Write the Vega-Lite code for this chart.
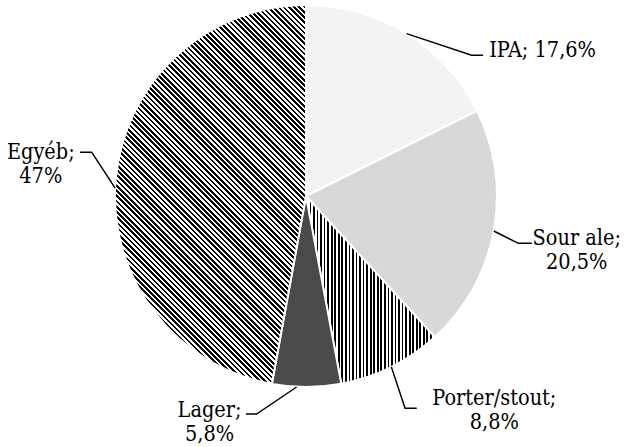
{
  "$schema": "https://vega.github.io/schema/vega-lite/v6.json",
  "width": 612,
  "height": 392,
  "padding": {"left": 0, "top": 0, "right": 12, "bottom": 55},
  "autosize": "none",
  "background": "white",
  "config": {"view": {"stroke": null}},
  "data": {
    "values": [
      {"category": "IPA", "value": 17.6, "label": ["IPA; 17,6%"]},
      {"category": "Sour ale", "value": 20.5, "label": ["Sour ale;", "20,5%"]},
      {"category": "Porter/stout", "value": 8.8, "label": ["Porter/stout;", "8,8%"]},
      {"category": "Lager", "value": 5.8, "label": ["Lager;", "5,8%"]},
      {"category": "Egyéb", "value": 47, "label": ["Egyéb;", "47%"]}
    ]
  },
  "transform": [
    {"window": [{"op": "row_number", "as": "i"}, {"op": "sum", "field": "value", "as": "cum"}], "frame": [null, 0]},
    {"joinaggregate": [{"op": "sum", "field": "value", "as": "total"}]},
    {"calculate": "2*PI*(datum.cum - datum.value/2)/datum.total", "as": "mid"},
    {"calculate": "191*sin(datum.mid)", "as": "ax"},
    {"calculate": "191*cos(datum.mid)", "as": "ay"}
  ],
  "layer": [
    {
      "mark": {"type": "arc", "radius": 191, "stroke": "white", "strokeWidth": 2},
      "encoding": {
        "theta": {"field": "value", "type": "quantitative", "stack": true},
        "order": {"field": "i", "type": "quantitative"},
        "fill": {
          "condition": [
            {"test": "datum.category === 'IPA'", "value": "#f3f3f3"},
            {"test": "datum.category === 'Sour ale'", "value": "#d8d8d8"},
            {"test": "datum.category === 'Lager'", "value": "#4a4a4a"},
            {"test": "datum.category === 'Porter/stout'", "value": {
              "gradient": "linear", "x1": 0, "y1": 0, "x2": 1.1, "y2": 0,
              "stops": [
                {"offset":0,"color":"#000"},
                {"offset":0.0125,"color":"#000"},{"offset":0.0125,"color":"#fff"},
                {"offset":0.025,"color":"#fff"},{"offset":0.025,"color":"#000"},
                {"offset":0.0375,"color":"#000"},{"offset":0.0375,"color":"#fff"},
                {"offset":0.05,"color":"#fff"},{"offset":0.05,"color":"#000"},
                {"offset":0.0625,"color":"#000"},{"offset":0.0625,"color":"#fff"},
                {"offset":0.075,"color":"#fff"},{"offset":0.075,"color":"#000"},
                {"offset":0.0875,"color":"#000"},{"offset":0.0875,"color":"#fff"},
                {"offset":0.1,"color":"#fff"},{"offset":0.1,"color":"#000"},
                {"offset":0.1125,"color":"#000"},{"offset":0.1125,"color":"#fff"},
                {"offset":0.125,"color":"#fff"},{"offset":0.125,"color":"#000"},
                {"offset":0.1375,"color":"#000"},{"offset":0.1375,"color":"#fff"},
                {"offset":0.15,"color":"#fff"},{"offset":0.15,"color":"#000"},
                {"offset":0.1625,"color":"#000"},{"offset":0.1625,"color":"#fff"},
                {"offset":0.175,"color":"#fff"},{"offset":0.175,"color":"#000"},
                {"offset":0.1875,"color":"#000"},{"offset":0.1875,"color":"#fff"},
                {"offset":0.2,"color":"#fff"},{"offset":0.2,"color":"#000"},
                {"offset":0.2125,"color":"#000"},{"offset":0.2125,"color":"#fff"},
                {"offset":0.225,"color":"#fff"},{"offset":0.225,"color":"#000"},
                {"offset":0.2375,"color":"#000"},{"offset":0.2375,"color":"#fff"},
                {"offset":0.25,"color":"#fff"},{"offset":0.25,"color":"#000"},
                {"offset":0.2625,"color":"#000"},{"offset":0.2625,"color":"#fff"},
                {"offset":0.275,"color":"#fff"},{"offset":0.275,"color":"#000"},
                {"offset":0.2875,"color":"#000"},{"offset":0.2875,"color":"#fff"},
                {"offset":0.3,"color":"#fff"},{"offset":0.3,"color":"#000"},
                {"offset":0.3125,"color":"#000"},{"offset":0.3125,"color":"#fff"},
                {"offset":0.325,"color":"#fff"},{"offset":0.325,"color":"#000"},
                {"offset":0.3375,"color":"#000"},{"offset":0.3375,"color":"#fff"},
                {"offset":0.35,"color":"#fff"},{"offset":0.35,"color":"#000"},
                {"offset":0.3625,"color":"#000"},{"offset":0.3625,"color":"#fff"},
                {"offset":0.375,"color":"#fff"},{"offset":0.375,"color":"#000"},
                {"offset":0.3875,"color":"#000"},{"offset":0.3875,"color":"#fff"},
                {"offset":0.4,"color":"#fff"},{"offset":0.4,"color":"#000"},
                {"offset":0.4125,"color":"#000"},{"offset":0.4125,"color":"#fff"},
                {"offset":0.425,"color":"#fff"},{"offset":0.425,"color":"#000"},
                {"offset":0.4375,"color":"#000"},{"offset":0.4375,"color":"#fff"},
                {"offset":0.45,"color":"#fff"},{"offset":0.45,"color":"#000"},
                {"offset":0.4625,"color":"#000"},{"offset":0.4625,"color":"#fff"},
                {"offset":0.475,"color":"#fff"},{"offset":0.475,"color":"#000"},
                {"offset":0.4875,"color":"#000"},{"offset":0.4875,"color":"#fff"},
                {"offset":0.5,"color":"#fff"},{"offset":0.5,"color":"#000"},
                {"offset":0.5125,"color":"#000"},{"offset":0.5125,"color":"#fff"},
                {"offset":0.525,"color":"#fff"},{"offset":0.525,"color":"#000"},
                {"offset":0.5375,"color":"#000"},{"offset":0.5375,"color":"#fff"},
                {"offset":0.55,"color":"#fff"},{"offset":0.55,"color":"#000"},
                {"offset":0.5625,"color":"#000"},{"offset":0.5625,"color":"#fff"},
                {"offset":0.575,"color":"#fff"},{"offset":0.575,"color":"#000"},
                {"offset":0.5875,"color":"#000"},{"offset":0.5875,"color":"#fff"},
                {"offset":0.6,"color":"#fff"},{"offset":0.6,"color":"#000"},
                {"offset":0.6125,"color":"#000"},{"offset":0.6125,"color":"#fff"},
                {"offset":0.625,"color":"#fff"},{"offset":0.625,"color":"#000"},
                {"offset":0.6375,"color":"#000"},{"offset":0.6375,"color":"#fff"},
                {"offset":0.65,"color":"#fff"},{"offset":0.65,"color":"#000"},
                {"offset":0.6625,"color":"#000"},{"offset":0.6625,"color":"#fff"},
                {"offset":0.675,"color":"#fff"},{"offset":0.675,"color":"#000"},
                {"offset":0.6875,"color":"#000"},{"offset":0.6875,"color":"#fff"},
                {"offset":0.7,"color":"#fff"},{"offset":0.7,"color":"#000"},
                {"offset":0.7125,"color":"#000"},{"offset":0.7125,"color":"#fff"},
                {"offset":0.725,"color":"#fff"},{"offset":0.725,"color":"#000"},
                {"offset":0.7375,"color":"#000"},{"offset":0.7375,"color":"#fff"},
                {"offset":0.75,"color":"#fff"},{"offset":0.75,"color":"#000"},
                {"offset":0.7625,"color":"#000"},{"offset":0.7625,"color":"#fff"},
                {"offset":0.775,"color":"#fff"},{"offset":0.775,"color":"#000"},
                {"offset":0.7875,"color":"#000"},{"offset":0.7875,"color":"#fff"},
                {"offset":0.8,"color":"#fff"},{"offset":0.8,"color":"#000"},
                {"offset":0.8125,"color":"#000"},{"offset":0.8125,"color":"#fff"},
                {"offset":0.825,"color":"#fff"},{"offset":0.825,"color":"#000"},
                {"offset":0.8375,"color":"#000"},{"offset":0.8375,"color":"#fff"},
                {"offset":0.85,"color":"#fff"},{"offset":0.85,"color":"#000"},
                {"offset":0.8625,"color":"#000"},{"offset":0.8625,"color":"#fff"},
                {"offset":0.875,"color":"#fff"},{"offset":0.875,"color":"#000"},
                {"offset":0.8875,"color":"#000"},{"offset":0.8875,"color":"#fff"},
                {"offset":0.9,"color":"#fff"},{"offset":0.9,"color":"#000"},
                {"offset":0.9125,"color":"#000"},{"offset":0.9125,"color":"#fff"}
              ]
            }}
          ],
          "value": {
            "gradient": "linear", "x1": 0, "y1": 1, "x2": 0.6938, "y2": -0.3765,
            "stops": [
              {"offset":0,"color":"#000"},
              {"offset":0.004,"color":"#000"},{"offset":0.004,"color":"#fff"},{"offset":0.008,"color":"#fff"},{"offset":0.008,"color":"#000"},
              {"offset":0.012,"color":"#000"},{"offset":0.012,"color":"#fff"},{"offset":0.016,"color":"#fff"},{"offset":0.016,"color":"#000"},
              {"offset":0.02,"color":"#000"},{"offset":0.02,"color":"#fff"},{"offset":0.024,"color":"#fff"},{"offset":0.024,"color":"#000"},
              {"offset":0.028,"color":"#000"},{"offset":0.028,"color":"#fff"},{"offset":0.032,"color":"#fff"},{"offset":0.032,"color":"#000"},
              {"offset":0.036,"color":"#000"},{"offset":0.036,"color":"#fff"},{"offset":0.04,"color":"#fff"},{"offset":0.04,"color":"#000"},
              {"offset":0.044,"color":"#000"},{"offset":0.044,"color":"#fff"},{"offset":0.048,"color":"#fff"},{"offset":0.048,"color":"#000"},
              {"offset":0.052,"color":"#000"},{"offset":0.052,"color":"#fff"},{"offset":0.056,"color":"#fff"},{"offset":0.056,"color":"#000"},
              {"offset":0.06,"color":"#000"},{"offset":0.06,"color":"#fff"},{"offset":0.064,"color":"#fff"},{"offset":0.064,"color":"#000"},
              {"offset":0.068,"color":"#000"},{"offset":0.068,"color":"#fff"},{"offset":0.072,"color":"#fff"},{"offset":0.072,"color":"#000"},
              {"offset":0.076,"color":"#000"},{"offset":0.076,"color":"#fff"},{"offset":0.08,"color":"#fff"},{"offset":0.08,"color":"#000"},
              {"offset":0.084,"color":"#000"},{"offset":0.084,"color":"#fff"},{"offset":0.088,"color":"#fff"},{"offset":0.088,"color":"#000"},
              {"offset":0.092,"color":"#000"},{"offset":0.092,"color":"#fff"},{"offset":0.096,"color":"#fff"},{"offset":0.096,"color":"#000"},
              {"offset":0.1,"color":"#000"},{"offset":0.1,"color":"#fff"},{"offset":0.104,"color":"#fff"},{"offset":0.104,"color":"#000"},
              {"offset":0.108,"color":"#000"},{"offset":0.108,"color":"#fff"},{"offset":0.112,"color":"#fff"},{"offset":0.112,"color":"#000"},
              {"offset":0.116,"color":"#000"},{"offset":0.116,"color":"#fff"},{"offset":0.12,"color":"#fff"},{"offset":0.12,"color":"#000"},
              {"offset":0.124,"color":"#000"},{"offset":0.124,"color":"#fff"},{"offset":0.128,"color":"#fff"},{"offset":0.128,"color":"#000"},
              {"offset":0.132,"color":"#000"},{"offset":0.132,"color":"#fff"},{"offset":0.136,"color":"#fff"},{"offset":0.136,"color":"#000"},
              {"offset":0.14,"color":"#000"},{"offset":0.14,"color":"#fff"},{"offset":0.144,"color":"#fff"},{"offset":0.144,"color":"#000"},
              {"offset":0.148,"color":"#000"},{"offset":0.148,"color":"#fff"},{"offset":0.152,"color":"#fff"},{"offset":0.152,"color":"#000"},
              {"offset":0.156,"color":"#000"},{"offset":0.156,"color":"#fff"},{"offset":0.16,"color":"#fff"},{"offset":0.16,"color":"#000"},
              {"offset":0.164,"color":"#000"},{"offset":0.164,"color":"#fff"},{"offset":0.168,"color":"#fff"},{"offset":0.168,"color":"#000"},
              {"offset":0.172,"color":"#000"},{"offset":0.172,"color":"#fff"},{"offset":0.176,"color":"#fff"},{"offset":0.176,"color":"#000"},
              {"offset":0.18,"color":"#000"},{"offset":0.18,"color":"#fff"},{"offset":0.184,"color":"#fff"},{"offset":0.184,"color":"#000"},
              {"offset":0.188,"color":"#000"},{"offset":0.188,"color":"#fff"},{"offset":0.192,"color":"#fff"},{"offset":0.192,"color":"#000"},
              {"offset":0.196,"color":"#000"},{"offset":0.196,"color":"#fff"},{"offset":0.2,"color":"#fff"},{"offset":0.2,"color":"#000"},
              {"offset":0.204,"color":"#000"},{"offset":0.204,"color":"#fff"},{"offset":0.208,"color":"#fff"},{"offset":0.208,"color":"#000"},
              {"offset":0.212,"color":"#000"},{"offset":0.212,"color":"#fff"},{"offset":0.216,"color":"#fff"},{"offset":0.216,"color":"#000"},
              {"offset":0.22,"color":"#000"},{"offset":0.22,"color":"#fff"},{"offset":0.224,"color":"#fff"},{"offset":0.224,"color":"#000"},
              {"offset":0.228,"color":"#000"},{"offset":0.228,"color":"#fff"},{"offset":0.232,"color":"#fff"},{"offset":0.232,"color":"#000"},
              {"offset":0.236,"color":"#000"},{"offset":0.236,"color":"#fff"},{"offset":0.24,"color":"#fff"},{"offset":0.24,"color":"#000"},
              {"offset":0.244,"color":"#000"},{"offset":0.244,"color":"#fff"},{"offset":0.248,"color":"#fff"},{"offset":0.248,"color":"#000"},
              {"offset":0.252,"color":"#000"},{"offset":0.252,"color":"#fff"},{"offset":0.256,"color":"#fff"},{"offset":0.256,"color":"#000"},
              {"offset":0.26,"color":"#000"},{"offset":0.26,"color":"#fff"},{"offset":0.264,"color":"#fff"},{"offset":0.264,"color":"#000"},
              {"offset":0.268,"color":"#000"},{"offset":0.268,"color":"#fff"},{"offset":0.272,"color":"#fff"},{"offset":0.272,"color":"#000"},
              {"offset":0.276,"color":"#000"},{"offset":0.276,"color":"#fff"},{"offset":0.28,"color":"#fff"},{"offset":0.28,"color":"#000"},
              {"offset":0.284,"color":"#000"},{"offset":0.284,"color":"#fff"},{"offset":0.288,"color":"#fff"},{"offset":0.288,"color":"#000"},
              {"offset":0.292,"color":"#000"},{"offset":0.292,"color":"#fff"},{"offset":0.296,"color":"#fff"},{"offset":0.296,"color":"#000"},
              {"offset":0.3,"color":"#000"},{"offset":0.3,"color":"#fff"},{"offset":0.304,"color":"#fff"},{"offset":0.304,"color":"#000"},
              {"offset":0.308,"color":"#000"},{"offset":0.308,"color":"#fff"},{"offset":0.312,"color":"#fff"},{"offset":0.312,"color":"#000"},
              {"offset":0.316,"color":"#000"},{"offset":0.316,"color":"#fff"},{"offset":0.32,"color":"#fff"},{"offset":0.32,"color":"#000"},
              {"offset":0.324,"color":"#000"},{"offset":0.324,"color":"#fff"},{"offset":0.328,"color":"#fff"},{"offset":0.328,"color":"#000"},
              {"offset":0.332,"color":"#000"},{"offset":0.332,"color":"#fff"},{"offset":0.336,"color":"#fff"},{"offset":0.336,"color":"#000"},
              {"offset":0.34,"color":"#000"},{"offset":0.34,"color":"#fff"},{"offset":0.344,"color":"#fff"},{"offset":0.344,"color":"#000"},
              {"offset":0.348,"color":"#000"},{"offset":0.348,"color":"#fff"},{"offset":0.352,"color":"#fff"},{"offset":0.352,"color":"#000"},
              {"offset":0.356,"color":"#000"},{"offset":0.356,"color":"#fff"},{"offset":0.36,"color":"#fff"},{"offset":0.36,"color":"#000"},
              {"offset":0.364,"color":"#000"},{"offset":0.364,"color":"#fff"},{"offset":0.368,"color":"#fff"},{"offset":0.368,"color":"#000"},
              {"offset":0.372,"color":"#000"},{"offset":0.372,"color":"#fff"},{"offset":0.376,"color":"#fff"},{"offset":0.376,"color":"#000"},
              {"offset":0.38,"color":"#000"},{"offset":0.38,"color":"#fff"},{"offset":0.384,"color":"#fff"},{"offset":0.384,"color":"#000"},
              {"offset":0.388,"color":"#000"},{"offset":0.388,"color":"#fff"},{"offset":0.392,"color":"#fff"},{"offset":0.392,"color":"#000"},
              {"offset":0.396,"color":"#000"},{"offset":0.396,"color":"#fff"},{"offset":0.4,"color":"#fff"},{"offset":0.4,"color":"#000"},
              {"offset":0.404,"color":"#000"},{"offset":0.404,"color":"#fff"},{"offset":0.408,"color":"#fff"},{"offset":0.408,"color":"#000"},
              {"offset":0.412,"color":"#000"},{"offset":0.412,"color":"#fff"},{"offset":0.416,"color":"#fff"},{"offset":0.416,"color":"#000"},
              {"offset":0.42,"color":"#000"},{"offset":0.42,"color":"#fff"},{"offset":0.424,"color":"#fff"},{"offset":0.424,"color":"#000"},
              {"offset":0.428,"color":"#000"},{"offset":0.428,"color":"#fff"},{"offset":0.432,"color":"#fff"},{"offset":0.432,"color":"#000"},
              {"offset":0.436,"color":"#000"},{"offset":0.436,"color":"#fff"},{"offset":0.44,"color":"#fff"},{"offset":0.44,"color":"#000"},
              {"offset":0.444,"color":"#000"},{"offset":0.444,"color":"#fff"},{"offset":0.448,"color":"#fff"},{"offset":0.448,"color":"#000"},
              {"offset":0.452,"color":"#000"},{"offset":0.452,"color":"#fff"},{"offset":0.456,"color":"#fff"},{"offset":0.456,"color":"#000"},
              {"offset":0.46,"color":"#000"},{"offset":0.46,"color":"#fff"},{"offset":0.464,"color":"#fff"},{"offset":0.464,"color":"#000"},
              {"offset":0.468,"color":"#000"},{"offset":0.468,"color":"#fff"},{"offset":0.472,"color":"#fff"},{"offset":0.472,"color":"#000"},
              {"offset":0.476,"color":"#000"},{"offset":0.476,"color":"#fff"},{"offset":0.48,"color":"#fff"},{"offset":0.48,"color":"#000"},
              {"offset":0.484,"color":"#000"},{"offset":0.484,"color":"#fff"},{"offset":0.488,"color":"#fff"},{"offset":0.488,"color":"#000"},
              {"offset":0.492,"color":"#000"},{"offset":0.492,"color":"#fff"},{"offset":0.496,"color":"#fff"},{"offset":0.496,"color":"#000"},
              {"offset":0.5,"color":"#000"},{"offset":0.5,"color":"#fff"},{"offset":0.504,"color":"#fff"},{"offset":0.504,"color":"#000"},
              {"offset":0.508,"color":"#000"},{"offset":0.508,"color":"#fff"},{"offset":0.512,"color":"#fff"},{"offset":0.512,"color":"#000"},
              {"offset":0.516,"color":"#000"},{"offset":0.516,"color":"#fff"},{"offset":0.52,"color":"#fff"},{"offset":0.52,"color":"#000"},
              {"offset":0.524,"color":"#000"},{"offset":0.524,"color":"#fff"},{"offset":0.528,"color":"#fff"},{"offset":0.528,"color":"#000"},
              {"offset":0.532,"color":"#000"},{"offset":0.532,"color":"#fff"},{"offset":0.536,"color":"#fff"},{"offset":0.536,"color":"#000"},
              {"offset":0.54,"color":"#000"},{"offset":0.54,"color":"#fff"},{"offset":0.544,"color":"#fff"},{"offset":0.544,"color":"#000"},
              {"offset":0.548,"color":"#000"},{"offset":0.548,"color":"#fff"},{"offset":0.552,"color":"#fff"},{"offset":0.552,"color":"#000"},
              {"offset":0.556,"color":"#000"},{"offset":0.556,"color":"#fff"},{"offset":0.56,"color":"#fff"},{"offset":0.56,"color":"#000"},
              {"offset":0.564,"color":"#000"},{"offset":0.564,"color":"#fff"},{"offset":0.568,"color":"#fff"},{"offset":0.568,"color":"#000"},
              {"offset":0.572,"color":"#000"},{"offset":0.572,"color":"#fff"},{"offset":0.576,"color":"#fff"},{"offset":0.576,"color":"#000"},
              {"offset":0.58,"color":"#000"},{"offset":0.58,"color":"#fff"},{"offset":0.584,"color":"#fff"},{"offset":0.584,"color":"#000"},
              {"offset":0.588,"color":"#000"},{"offset":0.588,"color":"#fff"},{"offset":0.592,"color":"#fff"},{"offset":0.592,"color":"#000"},
              {"offset":0.596,"color":"#000"},{"offset":0.596,"color":"#fff"},{"offset":0.6,"color":"#fff"},{"offset":0.6,"color":"#000"},
              {"offset":0.604,"color":"#000"},{"offset":0.604,"color":"#fff"},{"offset":0.608,"color":"#fff"},{"offset":0.608,"color":"#000"},
              {"offset":0.612,"color":"#000"},{"offset":0.612,"color":"#fff"},{"offset":0.616,"color":"#fff"},{"offset":0.616,"color":"#000"},
              {"offset":0.62,"color":"#000"},{"offset":0.62,"color":"#fff"},{"offset":0.624,"color":"#fff"},{"offset":0.624,"color":"#000"},
              {"offset":0.628,"color":"#000"},{"offset":0.628,"color":"#fff"},{"offset":0.632,"color":"#fff"},{"offset":0.632,"color":"#000"},
              {"offset":0.636,"color":"#000"},{"offset":0.636,"color":"#fff"},{"offset":0.64,"color":"#fff"},{"offset":0.64,"color":"#000"},
              {"offset":0.644,"color":"#000"},{"offset":0.644,"color":"#fff"},{"offset":0.648,"color":"#fff"},{"offset":0.648,"color":"#000"},
              {"offset":0.652,"color":"#000"},{"offset":0.652,"color":"#fff"},{"offset":0.656,"color":"#fff"},{"offset":0.656,"color":"#000"},
              {"offset":0.66,"color":"#000"},{"offset":0.66,"color":"#fff"},{"offset":0.664,"color":"#fff"},{"offset":0.664,"color":"#000"},
              {"offset":0.668,"color":"#000"},{"offset":0.668,"color":"#fff"},{"offset":0.672,"color":"#fff"},{"offset":0.672,"color":"#000"},
              {"offset":0.676,"color":"#000"},{"offset":0.676,"color":"#fff"},{"offset":0.68,"color":"#fff"},{"offset":0.68,"color":"#000"},
              {"offset":0.684,"color":"#000"},{"offset":0.684,"color":"#fff"},{"offset":0.688,"color":"#fff"},{"offset":0.688,"color":"#000"},
              {"offset":0.692,"color":"#000"},{"offset":0.692,"color":"#fff"},{"offset":0.696,"color":"#fff"},{"offset":0.696,"color":"#000"},
              {"offset":0.7,"color":"#000"},{"offset":0.7,"color":"#fff"},{"offset":0.704,"color":"#fff"},{"offset":0.704,"color":"#000"},
              {"offset":0.708,"color":"#000"},{"offset":0.708,"color":"#fff"},{"offset":0.712,"color":"#fff"},{"offset":0.712,"color":"#000"},
              {"offset":0.716,"color":"#000"},{"offset":0.716,"color":"#fff"},{"offset":0.72,"color":"#fff"},{"offset":0.72,"color":"#000"},
              {"offset":0.724,"color":"#000"},{"offset":0.724,"color":"#fff"},{"offset":0.728,"color":"#fff"},{"offset":0.728,"color":"#000"},
              {"offset":0.732,"color":"#000"},{"offset":0.732,"color":"#fff"},{"offset":0.736,"color":"#fff"},{"offset":0.736,"color":"#000"},
              {"offset":0.74,"color":"#000"},{"offset":0.74,"color":"#fff"},{"offset":0.744,"color":"#fff"},{"offset":0.744,"color":"#000"},
              {"offset":0.748,"color":"#000"},{"offset":0.748,"color":"#fff"},{"offset":0.752,"color":"#fff"},{"offset":0.752,"color":"#000"},
              {"offset":0.756,"color":"#000"},{"offset":0.756,"color":"#fff"},{"offset":0.76,"color":"#fff"},{"offset":0.76,"color":"#000"},
              {"offset":0.764,"color":"#000"},{"offset":0.764,"color":"#fff"},{"offset":0.768,"color":"#fff"},{"offset":0.768,"color":"#000"},
              {"offset":0.772,"color":"#000"},{"offset":0.772,"color":"#fff"},{"offset":0.776,"color":"#fff"},{"offset":0.776,"color":"#000"},
              {"offset":0.78,"color":"#000"},{"offset":0.78,"color":"#fff"},{"offset":0.784,"color":"#fff"},{"offset":0.784,"color":"#000"},
              {"offset":0.788,"color":"#000"},{"offset":0.788,"color":"#fff"},{"offset":0.792,"color":"#fff"},{"offset":0.792,"color":"#000"},
              {"offset":0.796,"color":"#000"},{"offset":0.796,"color":"#fff"},{"offset":0.8,"color":"#fff"},{"offset":0.8,"color":"#000"},
              {"offset":0.804,"color":"#000"},{"offset":0.804,"color":"#fff"},{"offset":0.808,"color":"#fff"},{"offset":0.808,"color":"#000"},
              {"offset":0.812,"color":"#000"},{"offset":0.812,"color":"#fff"},{"offset":0.816,"color":"#fff"},{"offset":0.816,"color":"#000"},
              {"offset":0.82,"color":"#000"},{"offset":0.82,"color":"#fff"},{"offset":0.824,"color":"#fff"},{"offset":0.824,"color":"#000"},
              {"offset":0.828,"color":"#000"},{"offset":0.828,"color":"#fff"},{"offset":0.832,"color":"#fff"},{"offset":0.832,"color":"#000"},
              {"offset":0.836,"color":"#000"},{"offset":0.836,"color":"#fff"},{"offset":0.84,"color":"#fff"},{"offset":0.84,"color":"#000"},
              {"offset":0.844,"color":"#000"},{"offset":0.844,"color":"#fff"},{"offset":0.848,"color":"#fff"},{"offset":0.848,"color":"#000"},
              {"offset":0.852,"color":"#000"},{"offset":0.852,"color":"#fff"},{"offset":0.856,"color":"#fff"},{"offset":0.856,"color":"#000"},
              {"offset":0.86,"color":"#000"},{"offset":0.86,"color":"#fff"},{"offset":0.864,"color":"#fff"},{"offset":0.864,"color":"#000"},
              {"offset":0.868,"color":"#000"},{"offset":0.868,"color":"#fff"},{"offset":0.872,"color":"#fff"},{"offset":0.872,"color":"#000"},
              {"offset":0.876,"color":"#000"},{"offset":0.876,"color":"#fff"}
            ]
          }
        }
      }
    },
    {
      "mark": {"type": "point", "filled": false, "stroke": "black", "strokeWidth": 1.5, "size": 40000, "opacity": 1},
      "encoding": {
        "x": {"field": "ax", "type": "quantitative", "scale": {"domain": [-306, 306], "nice": false, "zero": false}, "axis": null},
        "y": {"field": "ay", "type": "quantitative", "scale": {"domain": [-196, 196], "nice": false, "zero": false}, "axis": null},
        "shape": {
          "field": "category", "type": "nominal", "legend": null,
          "scale": {
            "domain": ["IPA", "Sour ale", "Porter/stout", "Lager", "Egyéb"],
            "range": [
              "M0,0L0.65,0.215L0.765,0.215",
              "M0,0L0.245,0.123L0.38,0.123",
              "M0,0L0.137,0.414L0.254,0.414",
              "M-0.1,0L-0.5,0.27L-0.607,0.27",
              "M-0.006,0.093L-0.241,-0.267L-0.358,-0.267"
            ]
          }
        }
      }
    },
    {
      "mark": {
        "type": "text", "font": "DejaVu Serif Condensed", "fontSize": 21.5, "lineHeight": 24,
        "align": "center", "baseline": "alphabetic", "color": "black",
        "dx": {"expr": "datum.category === 'IPA' ? 136 : datum.category === 'Sour ale' ? 83 : datum.category === 'Porter/stout' ? 103 : datum.category === 'Lager' ? -97 : -75"},
        "dy": {"expr": "datum.category === 'IPA' ? 23 : datum.category === 'Sour ale' ? 14 : datum.category === 'Porter/stout' ? 38 : datum.category === 'Lager' ? 30 : -20"}
      },
      "encoding": {
        "x": {"field": "ax", "type": "quantitative"},
        "y": {"field": "ay", "type": "quantitative"},
        "text": {"field": "label"}
      }
    }
  ]
}
